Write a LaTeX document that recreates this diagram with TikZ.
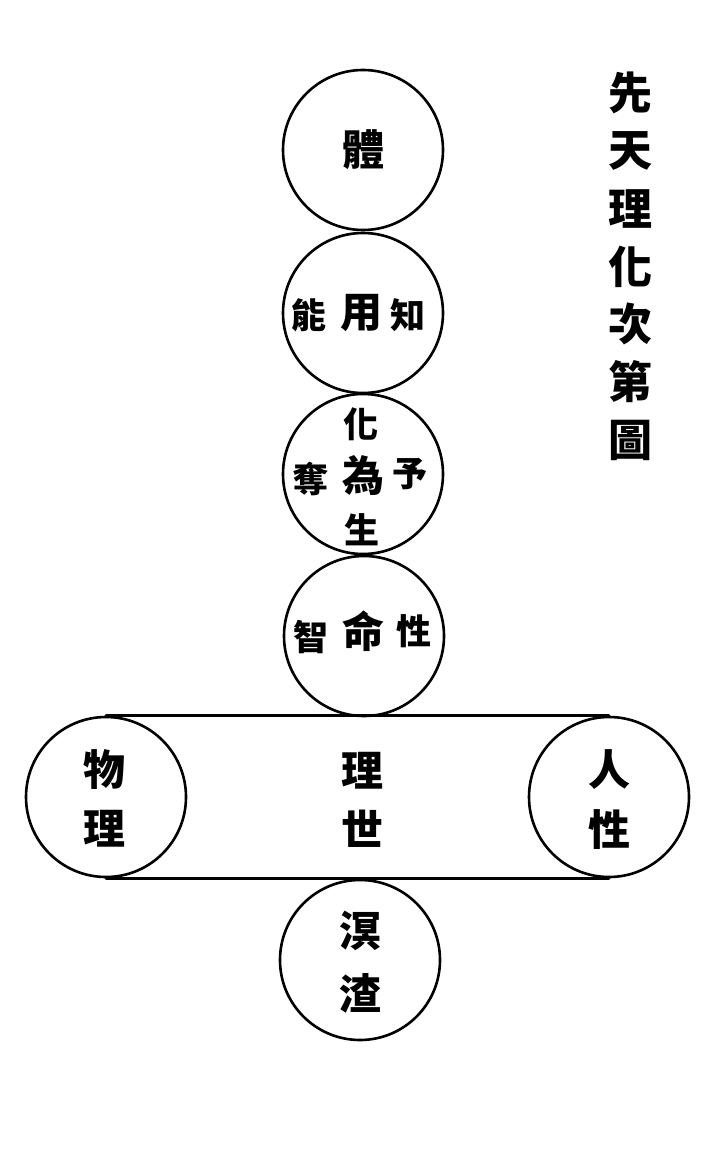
\documentclass[tikz,border=0pt]{standalone}
\usepackage{fontspec}
\newfontfamily\cjk{Noto Sans CJK TC}
\usetikzlibrary{positioning}

\begin{document}
\begin{tikzpicture}[x=1pt,y=-1pt]
\tikzset{
  orb/.style={circle,draw=black,line width=2.6pt,minimum size=160pt,inner sep=0pt},
  bigchar/.style={font=\cjk\bfseries\fontsize{42}{42}\selectfont,inner sep=0pt},
  smallchar/.style={font=\cjk\bfseries\fontsize{35}{35}\selectfont,inner sep=0pt},
  titlechar/.style={font=\cjk\bfseries\fontsize{44}{44}\selectfont,inner sep=0pt},
  bar/.style={draw=black,line width=2.6pt,line cap=round}
}
\useasboundingbox (0,0) rectangle (712,1153);
\node[orb] (n_ti) at (363,150) {};
\node[orb] (n_yong) at (363,313) {};
\node[orb] (n_wei) at (363,474) {};
\node[orb] (n_ming) at (364,636) {};
\node[orb] (n_wuli) at (106,797) {};
\node[orb] (n_renxing) at (609,797) {};
\node[orb] (n_mingzha) at (360,960) {};
\draw[bar] (n_wuli.north) -- (n_renxing.north);
\draw[bar] (n_wuli.south) -- (n_renxing.south);
% title
\node[titlechar] (t_xian) at (630,93) {先};
\node[titlechar] (t_tian) at (630,151) {天};
\node[titlechar] (t_li) at (630,209) {理};
\node[titlechar] (t_hua) at (630,267) {化};
\node[titlechar] (t_ci) at (630,324) {次};
\node[titlechar] (t_di) at (630,382) {第};
\node[titlechar] (t_tu) at (630,440) {圖};
% circle texts
\node[bigchar] (c_ti) at (363,150) {體};
\node[smallchar] (c_neng) at (309,315) {能};
\node[bigchar] (c_yong) at (361,313) {用};
\node[smallchar] (c_zhi) at (408,315) {知};
\node[smallchar] (c_hua) at (361,424) {化};
\node[smallchar] (c_duo) at (311,479) {奪};
\node[bigchar] (c_wei) at (363,476) {為};
\node[smallchar] (c_yu) at (410,474) {予};
\node[smallchar] (c_sheng) at (362,530) {生};
\node[smallchar] (c_zhi2) at (311,637) {智};
\node[bigchar] (c_ming) at (363,631) {命};
\node[smallchar] (c_xing) at (414,631) {性};
\node[bigchar] (c_wu) at (104,770) {物};
\node[bigchar] (c_li) at (104,829) {理};
\node[bigchar] (c_li2) at (362,771) {理};
\node[bigchar] (c_shi) at (362,829) {世};
\node[bigchar] (c_ren) at (609,770) {人};
\node[bigchar] (c_xing2) at (609,830) {性};
\node[bigchar] (c_ming2) at (360,931) {溟};
\node[bigchar] (c_zha) at (360,993) {渣};
\end{tikzpicture}
\end{document}
